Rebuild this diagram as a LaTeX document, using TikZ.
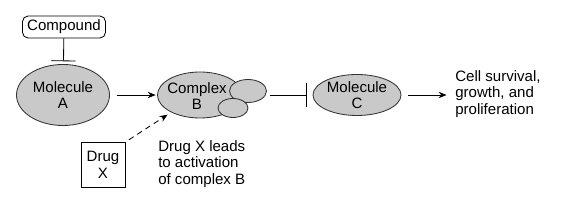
\documentclass[tikz,border=0pt]{standalone}
\usepackage{fontspec}
\setmainfont{Liberation Sans}
\usetikzlibrary{arrows.meta,positioning,shapes.geometric}
\tikzset{
  molnode/.style={
    ellipse,
    draw=black!80,
    fill=gray!42,
    line width=0.6pt,
    align=center,
    inner sep=0pt,
    font=\fontsize{10.7}{11.8}\selectfont
  },
  subunit/.style={
    ellipse,
    draw=black!80,
    fill=gray!42,
    line width=0.6pt,
    inner sep=0pt
  },
  labelbox/.style={
    draw=black,
    fill=white,
    line width=0.6pt,
    align=center,
    inner sep=2pt,
    font=\fontsize{10.7}{11.8}\selectfont
  },
  plaintext/.style={
    align=left,
    inner sep=0pt,
    font=\fontsize{10.7}{11.8}\selectfont
  },
  actarrow/.style={-{Stealth[length=2mm,width=1.6mm]}, line width=0.6pt},
  inhibit/.style={-{Bar[width=6mm]}, line width=0.6pt}
}
\begin{document}
\begin{tikzpicture}[x=0.025cm,y=-0.025cm]
  \useasboundingbox (0,0) rectangle (567,208);

  % upstream part
  \node[labelbox,rounded corners=4pt,minimum width=2.075cm,minimum height=0.55cm] (compound) at (64,27) {Compound};
  \node[molnode,minimum width=2.325cm,minimum height=1.525cm] (molA) at (63,95) {Molecule\\A};

  % complex B with its two subunits
  \node[molnode,minimum width=2.125cm,minimum height=1.15cm] (complexB) at (200,95) {};
  \node[subunit,minimum width=0.925cm,minimum height=0.575cm] (subB1) at (248,91) {};
  \node[subunit,minimum width=0.75cm,minimum height=0.475cm] (subB2) at (233,108) {};
  \node[plaintext,align=center] (complexBtxt) at (197,96) {Complex\\B};

  \node[labelbox,minimum width=1.1cm,minimum height=1.125cm] (drugX) at (103,165) {Drug\\X};
  \node[plaintext,anchor=north west] (drugtxt) at (158,140) {Drug X leads\\to activation\\of complex B};

  % downstream part
  \node[molnode,minimum width=2.2cm,minimum height=1.025cm] (molC) at (357,95) {Molecule\\C};
  \node[plaintext,anchor=west] (outcome) at (455,94) {Cell survival,\\growth, and\\proliferation};

  \draw[inhibit,shorten >=2pt] (compound) -- (molA);
  \draw[actarrow,shorten <=5pt,shorten >=1pt] (molA) -- (complexB);
  \draw[actarrow,dash pattern=on 4pt off 3pt,shorten <=3pt,shorten >=3pt] (drugX.north east) -- (complexB.211);
  \draw[inhibit,shorten <=2pt,shorten >=4pt] (subB1.east |- molC.west) -- (molC.west);
  \draw[actarrow,shorten <=5pt,shorten >=6pt] (molC) -- (outcome.west |- molC.east);
\end{tikzpicture}
\end{document}
